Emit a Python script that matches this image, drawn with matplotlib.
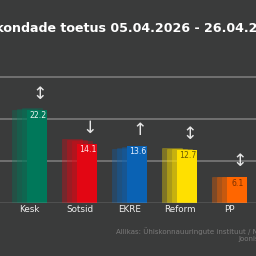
import numpy as np
import matplotlib
matplotlib.use("Agg")
import matplotlib.pyplot as plt

# data
parties = ["Kesk", "Sotsid", "EKRE", "Reform", "PP"]
current = [22.2, 14.1, 13.6, 12.7, 6.1]
# three earlier polls, oldest first
prev_1 = [22.1, 15.2, 12.9, 13.0, 6.3]
prev_2 = [22.4, 15.0, 13.1, 12.9, 6.3]
prev_3 = [22.5, 14.8, 13.3, 12.9, 6.2]
trend = ["↕", "↓", "↑", "↕", "↕"]
colors = ["#00785a", "#e30613", "#0a62b4", "#ffe000", "#ff6600"]
value_colors = ["#e8f4ee", "#ffe6e6", "#e6efff", "#6b5c00", "#7a3000"]

title = "Erakondade toetus 05.04.2026 - 26.04.2026"
source = "Allikas: Ühiskonnauuringute instituut / Norstat"
credit = "Joonis: ERR"

bg = "#3a3b3b"

fig = plt.figure(figsize=(2.56, 2.56), dpi=100, facecolor=bg)
ax = fig.add_axes([0, 53 / 256, 1, 203 / 256])
ax.set_facecolor(bg)

x = np.arange(len(parties))
w = 0.4

# older polls as faded bars behind
for vals, off in zip([prev_1, prev_2, prev_3], [-0.15, -0.05, 0.05]):
    ax.bar(x + off, vals, width=w, color=colors, alpha=0.35,
           edgecolor=colors, linewidth=0.4, zorder=2)
ax.bar(x + 0.15, current, width=w, color=colors, zorder=3)

for i, v in enumerate(current):
    ax.text(x[i] + 0.17, v - 1.4, f"{v}", ha="center", va="center",
            fontsize=5.6, color=value_colors[i], zorder=4)
    ax.text(x[i] + 0.21, v + 3.8, trend[i], ha="center", va="center",
            fontsize=12.5, color="#e6e6e6", zorder=4)

ax.set_xlim(-29.5 / 50, (256 - 29.5) / 50)
ax.set_ylim(0, 203 / 4.2)
for g in [10, 20, 30]:
    ax.axhline(g, color="#717171", linewidth=1.4, zorder=1)
ax.axhline(0, color="#a8a8a8", linewidth=1.0, zorder=5)
for s in ax.spines.values():
    s.set_visible(False)
ax.set_xticks([])
ax.set_yticks([])

for i, p in enumerate(parties):
    fig.text((29.5 + 50 * i) / 256, 1 - 209 / 256, p, ha="center", va="center",
             fontsize=6.3, color="#f0f0f0")

fig.text(0.5, 1 - 29 / 256, title, ha="center", va="center",
         fontsize=9.1, fontweight="bold", color="white")
fig.text(278 / 256, 1 - 231 / 256, source, ha="right", va="center",
         fontsize=5.0, color="#7a7a7a")
fig.text(278 / 256, 1 - 239 / 256, credit, ha="right", va="center",
         fontsize=5.0, color="#7a7a7a")

fig.savefig("out.png", dpi=100, facecolor=bg)
